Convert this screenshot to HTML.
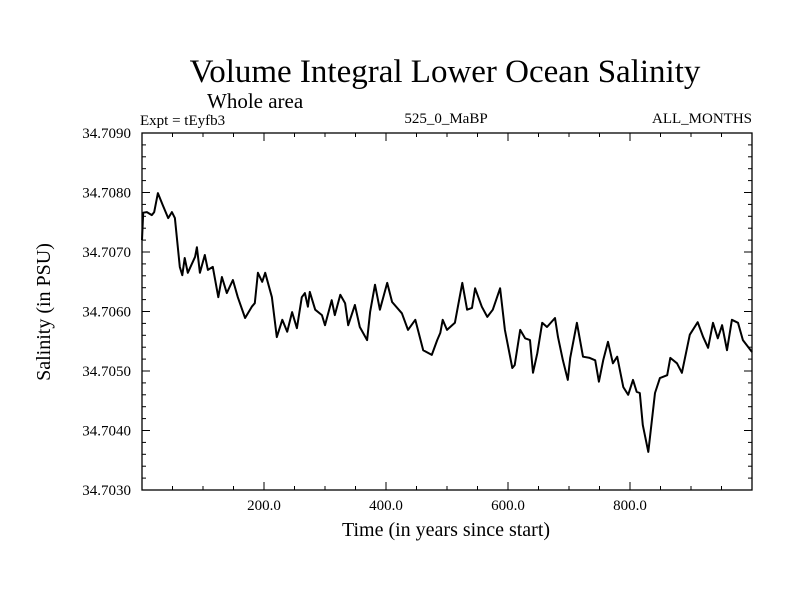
<!DOCTYPE html>
<html><head><meta charset="utf-8"><style>
html,body{margin:0;padding:0;background:#fff}
svg{display:block}
text{font-family:"Liberation Serif",serif;fill:#000}
</style></head><body>
<svg id="chart" width="800" height="600">
<text x="445" y="82" font-size="33" text-anchor="middle">Volume Integral Lower Ocean Salinity</text>
<text x="207" y="108" font-size="21">Whole area</text>
<text x="140" y="125" font-size="15">Expt = tEyfb3</text>
<text x="446" y="123" font-size="15" text-anchor="middle">525_0_MaBP</text>
<text x="752" y="123" font-size="15" text-anchor="end">ALL_MONTHS</text>
<text x="446" y="536" font-size="20" text-anchor="middle">Time (in years since start)</text>
<text transform="translate(50,312) rotate(-90)" font-size="20" text-anchor="middle">Salinity (in PSU)</text>
<g id="axes"></g>
<g id="series"></g>
<rect x="142" y="133" width="610" height="357" fill="none" stroke="#000" stroke-width="1.3"/>
</svg>
<script>
const years=[0,2,8,16,20,26,34,43,49,54,62,66,70,75,87,90,95,103,108,116,125,131,139,149,157,169,180,185,190,197,202,213,221,230,238,246,254,262,267,272,275,284,295,300,311,316,325,333,338,349,357,369,374,382,390,402,410,426,436,448,461,475,484,489,493,500,513,525,533,541,546,557,566,575,587,595,607,611,620,628,636,641,648,656,664,677,682,690,698,702,713,723,734,743,749,756,764,772,779,789,797,805,811,816,821,830,841,849,861,866,877,885,898,911,920,928,936,944,951,959,967,977,985,1000];
const salinity=[34.70720,34.70766,34.70767,34.70762,34.70767,34.70799,34.70779,34.70757,34.70767,34.70757,34.70675,34.70661,34.70690,34.70665,34.70692,34.70708,34.70665,34.70695,34.70670,34.70675,34.70624,34.70658,34.70631,34.70653,34.70624,34.70589,34.70608,34.70614,34.70665,34.70650,34.70665,34.70624,34.70557,34.70586,34.70566,34.70599,34.70572,34.70624,34.70631,34.70608,34.70633,34.70603,34.70594,34.70577,34.70619,34.70594,34.70628,34.70614,34.70577,34.70611,34.70574,34.70552,34.70599,34.70645,34.70603,34.70648,34.70616,34.70597,34.70569,34.70586,34.70535,34.70527,34.70552,34.70564,34.70586,34.70569,34.70581,34.70648,34.70603,34.70606,34.70639,34.70608,34.70591,34.70603,34.70639,34.70569,34.70505,34.70510,34.70569,34.70555,34.70552,34.70497,34.70530,34.70581,34.70574,34.70589,34.70557,34.70518,34.70485,34.70522,34.70581,34.70524,34.70522,34.70518,34.70482,34.70518,34.70549,34.70513,34.70524,34.70473,34.70460,34.70485,34.70465,34.70463,34.70409,34.70364,34.70463,34.70488,34.70493,34.70522,34.70513,34.70497,34.70561,34.70582,34.70557,34.70539,34.70581,34.70555,34.70577,34.70535,34.70586,34.70581,34.70552,34.70532];
const xTickLabels=[200,400,600,800];
const yTickLabels=[34.7030,34.7040,34.7050,34.7060,34.7070,34.7080,34.7090];
const X0=142,X1=752,Y0=490,Y1=133,XMIN=0,XMAX=1000,YMIN=34.7030,YMAX=34.7090;
const sx=v=>X0+(v-XMIN)/(XMAX-XMIN)*(X1-X0);
const sy=v=>Y0-(v-YMIN)/(YMAX-YMIN)*(Y0-Y1);
const NS="http://www.w3.org/2000/svg";
const axes=document.getElementById('axes');
function line(x1,y1,x2,y2,name){const l=document.createElementNS(NS,'line');l.setAttribute('x1',x1);l.setAttribute('y1',y1);l.setAttribute('x2',x2);l.setAttribute('y2',y2);l.setAttribute('stroke','#000');l.setAttribute('stroke-width','1');


axes.appendChild(l);}
for(let v=50;v<XMAX;v+=50){const x=sx(v);const L=v%200===0?8:4;line(x,Y0,x,Y0-L,'x-tick');line(x,Y1,x,Y1+L,'x-tick-top');}
for(let i=1;i<30;i++){const v=YMIN+i*0.0002;const y=sy(v);const L=i%5===0?8:4;line(X0,y,X0+L,y,'y-tick');line(X1,y,X1-L,y,'y-tick-right');}
xTickLabels.forEach(v=>{const t=document.createElementNS(NS,'text');t.setAttribute('x',sx(v));t.setAttribute('y',510);t.setAttribute('font-size','15');t.setAttribute('text-anchor','middle');t.textContent=v.toFixed(1);


axes.appendChild(t);});
yTickLabels.forEach(v=>{const t=document.createElementNS(NS,'text');t.setAttribute('x',131);t.setAttribute('y',sy(v)+5);t.setAttribute('font-size','15');t.setAttribute('text-anchor','end');t.textContent=v.toFixed(4);


axes.appendChild(t);});
const p=document.createElementNS(NS,'polyline');
p.setAttribute('points',years.map((y,i)=>sx(y).toFixed(1)+','+sy(salinity[i]).toFixed(1)).join(' '));
p.setAttribute('fill','none');p.setAttribute('stroke','#000');p.setAttribute('stroke-width','2');p.setAttribute('stroke-linejoin','round');


document.getElementById('series').appendChild(p);
</script>
</body></html>
